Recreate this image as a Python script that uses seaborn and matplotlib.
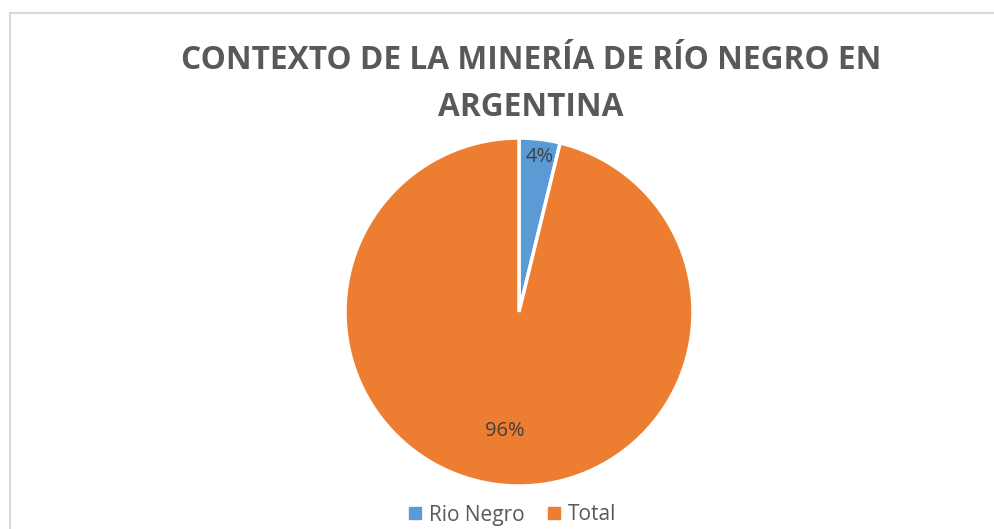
import matplotlib
matplotlib.use("Agg")
import matplotlib.pyplot as plt
import seaborn as sns
from matplotlib.patches import Rectangle
import numpy as np

labels = ["Rio Negro", "Total"]
shares = [3.8, 96.2]
colors = ["#5B9BD5", "#ED7D31"]
title = "CONTEXTO DE LA MINERÍA DE RÍO NEGRO EN\nARGENTINA"

sns.set_theme(style="white")
plt.rcParams["font.family"] = ["Open Sans", "DejaVu Sans"]

W, H = 995, 529
fig = plt.figure(figsize=(W / 100, H / 100), dpi=100)

# chart frame (cut off at right / bottom like the screenshot)
fig.patches.append(Rectangle((9.5 / W, -0.1), 1.2, 1 - 12.5 / H + 0.1,
                             transform=fig.transFigure, fill=False,
                             edgecolor="#d9d9d9", lw=1.5))

cx, cy, r = 519, 312, 174
ax = fig.add_axes([(cx - r) / W, (H - cy - r) / H, 2 * r / W, 2 * r / H])

wedges, texts, autotexts = ax.pie(
    shares, colors=colors, startangle=90, counterclock=False,
    autopct="%.0f%%", pctdistance=0.69,
    wedgeprops=dict(edgecolor="white", linewidth=2.5),
    textprops=dict(color="#404040", fontsize=14.5),
)
ax.set_aspect("equal")
ax.set_xlim(-1, 1)
ax.set_ylim(-1, 1)

# small slice label sits near the rim
w = wedges[0]
mid = np.deg2rad((w.theta1 + w.theta2) / 2)
autotexts[0].set_position((0.9 * np.cos(mid) + 0.01, 0.9 * np.sin(mid)))

fig.text(531 / W, 1 - 84 / H, title, ha="center", va="center",
         fontsize=22.8, fontweight="bold", color="#595959", linespacing=1.55)

handles = [plt.Line2D([], [], marker="s", ls="", color=c, markersize=8)
           for c in colors]
fig.legend(handles, labels, loc="center", bbox_to_anchor=(512 / W, 1 - 515 / H),
           ncol=2, frameon=False, fontsize=15, handlelength=0.7,
           handletextpad=0.3, columnspacing=1.1, labelcolor="#595959")

fig.savefig("out.png", dpi=100, facecolor="white")
